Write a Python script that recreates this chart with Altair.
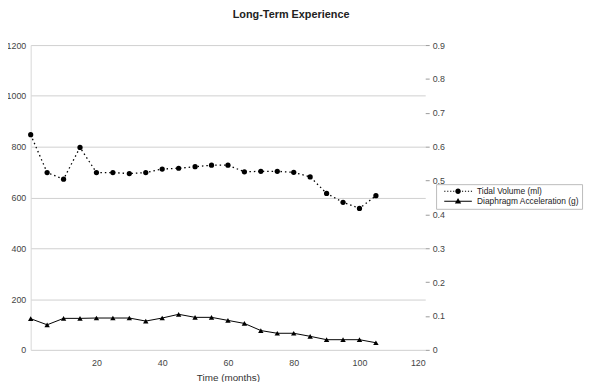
import altair as alt
import pandas as pd

months = [0, 5, 10, 15, 20, 25, 30, 35, 40, 45, 50, 55, 60, 65, 70, 75, 80, 85, 90, 95, 100, 105]
tidal_volume = [847, 698, 672, 797, 698, 698, 694, 698, 712, 715, 721, 727, 727, 701, 703, 703,
                699, 681, 616, 581, 557, 607]
diaphragm_accel = [0.092, 0.074, 0.093, 0.093, 0.094, 0.094, 0.094, 0.085, 0.094, 0.105, 0.096,
                   0.096, 0.087, 0.078, 0.057, 0.049, 0.049, 0.040, 0.030, 0.030, 0.030, 0.021]
series_names = ["Tidal Volume (ml)", "Diaphragm Acceleration (g)"]
x_ticks = [20, 40, 60, 80, 100, 120]
left_ticks = [0, 200, 400, 600, 800, 1000, 1200]
right_ticks = [0, 0.1, 0.2, 0.3, 0.4, 0.5, 0.6, 0.7, 0.8, 0.9]

FONT = "Liberation Sans"

df = pd.DataFrame({"month": months, "tidal": tidal_volume, "accel": diaphragm_accel})
leg = pd.DataFrame({"series": series_names})

# legend symbol glyphs (unit = sqrt(size)/2 px): line sample with marker in the middle, all filled
dots = "".join(
    f"M{-3.5 + i * 0.75:.2f},-0.13h0.3v0.26h-0.3Z" for i in range(10)
)
circle_path = dots + "M-0.7,0A0.7,0.7 0 1,1 0.7,0A0.7,0.7 0 1,1 -0.7,0Z"
solid = "M-3.5,-0.13L3.5,-0.13L3.5,0.13L-3.5,0.13Z"
tri_path = solid + "M0,-0.8L0.8,0.6L-0.8,0.6Z"

x_enc = alt.X(
    "month:Q",
    scale=alt.Scale(domain=[0, 120], nice=False),
    axis=alt.Axis(values=x_ticks, title="Time (months)", grid=False, ticks=False,
                  domain=False, labelPadding=9, titlePadding=5),
)
base = alt.Chart(df).encode(x=x_enc)

tidal_y = alt.Y(
    "tidal:Q",
    scale=alt.Scale(domain=[0, 1200], nice=False),
    axis=alt.Axis(values=left_ticks, title=None, grid=True, gridColor="#cfcfcf", format="d",
                  ticks=False, domain=True, domainColor="#d8d8d8", labelPadding=5),
)
tidal_line = base.mark_line(color="black", strokeDash=[1.5, 3], strokeWidth=1.3).encode(y=tidal_y)
tidal_pts = base.mark_point(shape="circle", filled=True, color="black", size=28, opacity=1).encode(y=tidal_y)

legend_layer = alt.Chart(leg).mark_point(filled=True, size=64).encode(
    x=alt.value(0),
    y=alt.value(0),
    fill=alt.value("black"),
    opacity=alt.value(0),
    shape=alt.Shape(
        "series:N",
        scale=alt.Scale(domain=series_names, range=[circle_path, tri_path]),
        legend=alt.Legend(title=None, symbolFillColor="black", symbolStrokeColor="transparent",
                          symbolStrokeWidth=0, symbolOpacity=1, symbolSize=64),
    ),
)

accel_y = alt.Y(
    "accel:Q",
    scale=alt.Scale(domain=[0, 0.9], nice=False),
    axis=alt.Axis(orient="right", values=right_ticks, title=None, grid=False, ticks=True,
                  tickSize=4, tickColor="#999", domain=False, labelPadding=3,
                  labelExpr="datum.value == 0 ? '0' : format(datum.value, '.1f')"),
)
accel_line = base.mark_line(color="black", strokeWidth=1).encode(y=accel_y)
accel_pts = base.mark_point(shape="triangle-up", filled=True, color="black", size=30, opacity=1).encode(y=accel_y)

chart = alt.layer(
    alt.layer(tidal_line, tidal_pts, legend_layer),
    alt.layer(accel_line, accel_pts),
).resolve_scale(y="independent").properties(
    width=400,
    height=309,
    padding={"left": 23, "top": 35, "right": 164, "bottom": 30},
    autosize=alt.AutoSizeParams(type="none"),
    title=alt.TitleParams("Long-Term Experience", font=FONT, fontSize=11, fontWeight="bold",
                          color="#222", anchor="middle", dx=64, offset=21),
).configure_view(stroke=None).configure_axis(
    labelFont=FONT, labelFontSize=9, labelColor="#444",
    titleFont=FONT, titleFontSize=10, titleColor="#333", titleFontWeight="normal",
).configure_legend(
    orient="none", legendX=411, legendY=141, strokeColor="#bbb", padding=3,
    labelFont=FONT, labelFontSize=8.5, labelColor="#222", labelOffset=15, symbolOffset=15,
    rowPadding=1,
)

chart.save("out.html", embed_options={"renderer": "svg", "actions": False})
